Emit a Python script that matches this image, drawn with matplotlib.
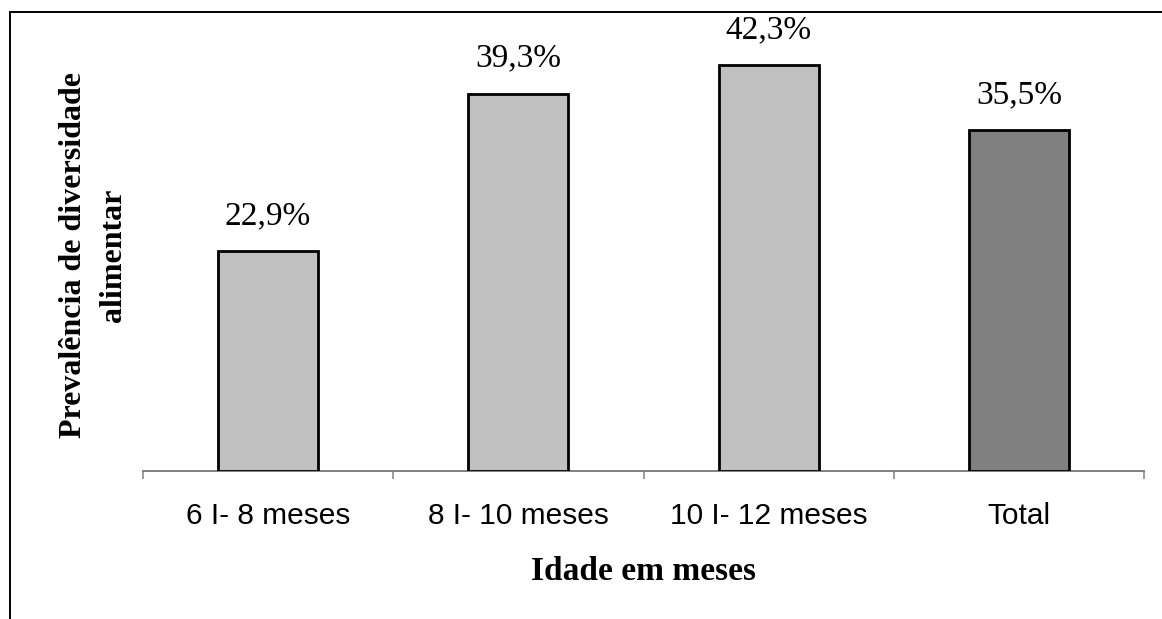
import matplotlib
matplotlib.use("Agg")
import matplotlib.pyplot as plt
from matplotlib.lines import Line2D

categories = ["6 I- 8 meses", "8 I- 10 meses", "10 I- 12 meses", "Total"]
values = [22.9, 39.3, 42.3, 35.5]
value_labels = ["22,9%", "39,3%", "42,3%", "35,5%"]
bar_colors = ["#c0c0c0", "#c0c0c0", "#c0c0c0", "#808080"]

W, H, DPI = 1162, 619, 100
fig = plt.figure(figsize=(W / DPI, H / DPI), dpi=DPI)

ax = fig.add_axes([143 / W, (H - 471) / H, (1144 - 143) / W, 432 / H])
x = list(range(len(categories)))
bars = ax.bar(x, values, width=0.4, color=bar_colors, edgecolor="black",
              linewidth=2.0, zorder=3)

for rect, lab in zip(bars, value_labels):
    ax.annotate(lab, (rect.get_x() + rect.get_width() / 2, rect.get_height()),
                xytext=(0, 19.5), textcoords="offset points",
                ha="center", va="baseline", fontsize=24,
                family="Liberation Serif")

ax.set_xlim(-0.5, len(categories) - 0.5)
ax.set_ylim(0, 45)

for s in ("top", "right", "left"):
    ax.spines[s].set_visible(False)
ax.spines["bottom"].set_color("#808080")
ax.spines["bottom"].set_linewidth(1.4)
ax.set_yticks([])

ax.set_xticks(x)
ax.set_xticklabels(categories, fontsize=21.5, family="Liberation Sans")
ax.tick_params(axis="x", which="major", length=0, pad=22)
ax.set_xticks([i - 0.5 for i in range(len(categories) + 1)], minor=True)
ax.tick_params(axis="x", which="minor", length=6, width=1.1, color="#808080",
               direction="out")

ax.set_xlabel("Idade em meses", fontsize=24, fontweight="bold",
              family="Liberation Serif", labelpad=19)
ax.set_ylabel("Prevalência de diversidade\nalimentar", fontsize=23,
              fontweight="bold", family="Liberation Serif", linespacing=1.5,
              labelpad=11)

# frame lines along the top and left of the figure
fig.add_artist(Line2D([10 / W, 1.0], [1 - 12 / H, 1 - 12 / H],
                      transform=fig.transFigure, color="black", linewidth=1.4))
fig.add_artist(Line2D([10 / W, 10 / W], [0.0, 1 - 12 / H],
                      transform=fig.transFigure, color="black", linewidth=1.4))

fig.savefig("out.png", dpi=DPI)
